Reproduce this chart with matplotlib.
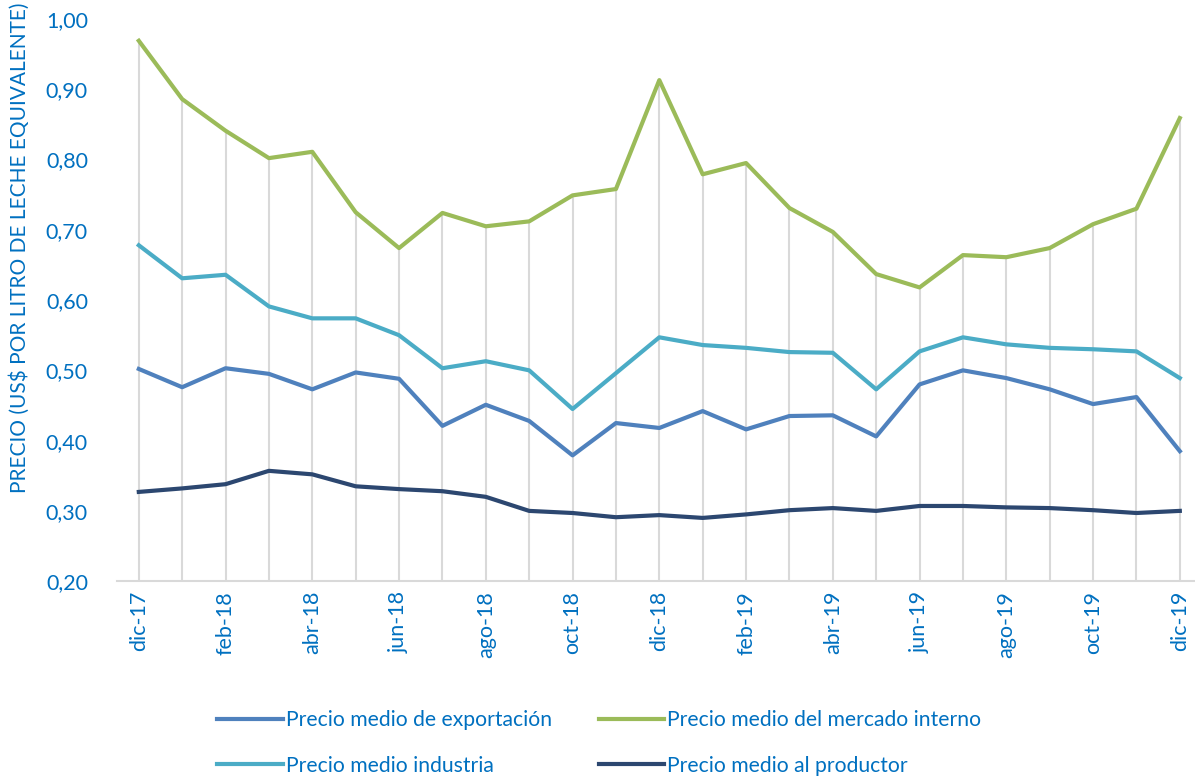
import numpy as np
import matplotlib.pyplot as plt

plt.rcParams['font.family'] = ['Lato', 'DejaVu Sans']

# Meses dic-17 .. dic-19
meses = ['dic-17', 'ene-18', 'feb-18', 'mar-18', 'abr-18', 'may-18', 'jun-18',
         'jul-18', 'ago-18', 'sep-18', 'oct-18', 'nov-18', 'dic-18', 'ene-19',
         'feb-19', 'mar-19', 'abr-19', 'may-19', 'jun-19', 'jul-19', 'ago-19',
         'sep-19', 'oct-19', 'nov-19', 'dic-19']

exportacion = [0.502, 0.476, 0.503, 0.495, 0.473, 0.497, 0.488, 0.421, 0.451,
               0.428, 0.379, 0.425, 0.418, 0.442, 0.416, 0.435, 0.436, 0.406,
               0.480, 0.500, 0.489, 0.473, 0.452, 0.462, 0.385]
mercado_interno = [0.969, 0.886, 0.841, 0.802, 0.811, 0.725, 0.674, 0.724, 0.705,
                   0.712, 0.749, 0.758, 0.913, 0.779, 0.795, 0.731, 0.697, 0.637,
                   0.618, 0.664, 0.661, 0.674, 0.708, 0.730, 0.859]
industria = [0.678, 0.631, 0.636, 0.591, 0.574, 0.574, 0.550, 0.503, 0.513,
             0.500, 0.445, 0.496, 0.547, 0.536, 0.532, 0.526, 0.525, 0.473,
             0.527, 0.547, 0.537, 0.532, 0.530, 0.527, 0.489]
productor = [0.327, 0.332, 0.338, 0.357, 0.352, 0.335, 0.331, 0.328, 0.320,
             0.300, 0.297, 0.291, 0.294, 0.290, 0.295, 0.301, 0.304, 0.300,
             0.307, 0.307, 0.305, 0.304, 0.301, 0.297, 0.300]

azul_txt = '#0070C0'
x = np.arange(len(meses))

fig = plt.figure(figsize=(11.95, 7.78), dpi=100)
ax = fig.add_axes([0.098, 0.253, 0.902, 0.7226])

# lineas de caida (drop lines)
tope = np.max([exportacion, mercado_interno, industria, productor], axis=0)
ax.vlines(x, 0.20, tope, color='#D9D9D9', lw=1.5, zorder=1)

l1, = ax.plot(x, exportacion, color='#4F81BD', lw=3, label='Precio medio de exportación', zorder=3)
l2, = ax.plot(x, mercado_interno, color='#9BBB59', lw=3, label='Precio medio del mercado interno', zorder=3)
l3, = ax.plot(x, industria, color='#4BACC6', lw=3, label='Precio medio industria', zorder=3)
l4, = ax.plot(x, productor, color='#2C4770', lw=3, label='Precio medio al productor', zorder=3)

ax.set_ylim(0.20, 1.00)
ax.set_xlim(-0.5, 24.35)
yt = np.arange(0.20, 1.001, 0.10)
ax.set_yticks(yt)
ax.set_yticklabels([f'{v:.2f}'.replace('.', ',') for v in yt])
ax.set_xticks(x[::2])
ax.set_xticklabels(meses[::2], rotation=90)
ax.tick_params(axis='both', length=0, labelsize=15.5, labelcolor=azul_txt)
ax.tick_params(axis='x', pad=7)
ax.tick_params(axis='y', pad=21)

for s in ['top', 'right', 'left']:
    ax.spines[s].set_visible(False)
ax.spines['bottom'].set_color('#D9D9D9')
ax.spines['bottom'].set_linewidth(1.5)

fig.text(0.016, 0.682, 'PRECIO (US$ POR LITRO DE LECHE EQUIVALENTE)', rotation=90,
         ha='center', va='center', fontsize=15, color=azul_txt)

leg = fig.legend(handles=[l1, l3, l2, l4], ncol=2, loc='center left',
                 bbox_to_anchor=(0.166, 0.045), frameon=False, fontsize=15.2,
                 handlelength=3.1, handletextpad=0.15, columnspacing=2.2,
                 labelspacing=1.2)
for t in leg.get_texts():
    t.set_color(azul_txt)

fig.savefig('out.png', dpi=100)
